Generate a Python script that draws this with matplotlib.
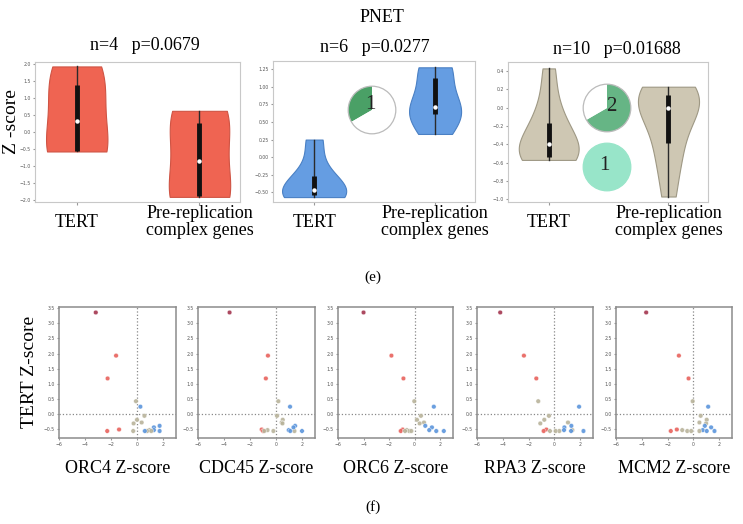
import numpy as np
import matplotlib.pyplot as plt

W, H = 743, 524
SERIF = "Liberation Serif"

# ---- panel (e): violin data (Z-scores) for the three PNET subgroups ----
categories = ["TERT", "Pre-replication\ncomplex genes"]
titles = ["n=4   p=0.0679", "n=6   p=0.0277", "n=10   p=0.01688"]

red_tert = [-0.57, -0.55, 1.2, 1.92]
red_prerep = [-1.9, -1.85, 0.15, 0.62]
blue_tert = [-0.57, -0.55, -0.5, -0.45, -0.2, 0.25]
blue_prerep = [0.33, 0.6, 0.68, 0.75, 1.25, 1.28]
tan_tert = [-0.57, -0.55, -0.55, -0.5, -0.45, -0.35, -0.2, -0.15, 0.1, 0.43]
tan_prerep = [-0.97, -0.6, -0.45, -0.2, -0.05, 0.05, 0.1, 0.15, 0.2, 0.23]

# pie insets
pie_blue = [1, 2]
pie_tan_a = [2, 1]
pie_tan_b = [1]

# ---- panel (f): TERT Z-score vs gene Z-score, 20 samples ----
genes = ["ORC4", "CDC45", "ORC6", "RPA3", "MCM2"]
point_group = ["maroon", "red", "red", "red", "red", "tan", "blue", "tan", "tan", "tan",
               "tan", "tan", "tan", "tan", "blue", "blue", "blue", "blue", "blue", "tan"]
tert_z = [3.35, 1.93, 1.18, -0.50, -0.55, 0.43, 0.25, -0.05, -0.18, -0.27,
          -0.30, -0.52, -0.55, -0.55, -0.38, -0.43, -0.52, -0.55, -0.55, -0.55]
orc4_z = [-3.17, -1.61, -2.26, -1.38, -2.29, -0.08, 0.26, 0.57, 0.0, 0.36,
          -0.26, 0.96, -0.29, 0.78, 1.74, 1.3, 1.3, 0.6, 1.74, 1.1]
cdc45_z = [-3.57, -0.62, -0.78, -1.1, -1.0, 0.18, 1.08, 0.08, 0.52, 0.44,
           0.5, -0.65, -0.2, 1.42, 1.47, 1.34, 0.98, 1.1, 2.0, -0.9]
orc6_z = [-4.0, -1.82, -0.88, -0.94, -1.09, -0.03, 1.5, 0.49, 0.18, 0.73,
          0.39, -0.62, -0.42, -0.26, 0.83, 1.35, 1.14, 1.69, 2.28, -0.75]
rpa3_z = [-4.2, -2.36, -1.4, -0.62, -0.83, -1.25, 1.92, -0.42, -0.78, 1.06,
          -1.09, 1.4, -0.34, 0.39, 1.32, 0.78, 0.75, 1.3, 2.26, 0.1]
mcm2_z = [-3.66, -1.12, -0.37, -1.28, -1.75, -0.05, 1.15, 0.57, 1.04, 0.47,
          0.99, -0.86, -0.47, -0.16, 0.89, 1.38, 0.73, 1.04, 1.64, 0.47]
gene_z = [orc4_z, cdc45_z, orc6_z, rpa3_z, mcm2_z]

group_colors = {"maroon": "#a3354f", "red": "#e8625c", "tan": "#b8b39a", "blue": "#5b95dc"}

fig = plt.figure(figsize=(W / 100, H / 100), dpi=100)


def px_axes(x0, y0, x1, y1):
    return fig.add_axes([x0 / W, 1 - y1 / H, (x1 - x0) / W, (y1 - y0) / H])


def ftext(x, y, s, **kw):
    fig.text(x / W, 1 - y / H, s, ha="center", va="center", family=SERIF, **kw)


def draw_violins(ax, data, widths, face, edge, ylim, yticks):
    parts = ax.violinplot(data, positions=[0, 1], widths=widths, showextrema=False,
                          bw_method="scott")
    for body in parts["bodies"]:
        body.set_facecolor(face)
        body.set_edgecolor(edge)
        body.set_linewidth(0.8)
        body.set_alpha(1)
    for pos, d in enumerate(data):
        q1, med, q3 = np.percentile(d, [25, 50, 75])
        ax.plot([pos, pos], [min(d), max(d)], color="#2b2b2b", lw=1.0, zorder=3)
        ax.plot([pos, pos], [q1, q3], color="#111111", lw=3.5, solid_capstyle="butt", zorder=4)
        ax.plot(pos, med, "o", color="white", ms=2.2, zorder=5)
    ax.set_xlim(-0.34, 1.33)
    ax.set_ylim(*ylim)
    ax.set_yticks(yticks)
    ax.set_xticks([0, 1])
    ax.set_xticklabels(categories, family=SERIF, fontsize=13, va="center", linespacing=1.05)
    ax.tick_params(axis="x", length=2, pad=12.5, color="#999999")
    ax.tick_params(axis="y", labelsize=3.3, length=1.5, pad=1.5, color="#999999",
                   labelcolor="#555555")
    for sp in ax.spines.values():
        sp.set_color("#c8c8c8")
        sp.set_linewidth(0.8)


def draw_pie(x0, y0, x1, y1, vals, colors, label, lx, ly, counterclock=True, edge="#bbbbbb"):
    pax = px_axes(x0, y0, x1, y1)
    pax.pie(vals, colors=colors, startangle=90, counterclock=counterclock,
            wedgeprops=dict(linewidth=0))
    circ = plt.Circle((0, 0), 1, fill=False, edgecolor=edge, lw=0.9)
    pax.add_patch(circ)
    pax.text(lx, ly, label, ha="center", va="center", family=SERIF, fontsize=15, color="#222222")
    pax.set_xlim(-1.05, 1.05)
    pax.set_ylim(-1.05, 1.05)
    pax.set_aspect("equal")
    pax.axis("off")


# ---- top row ----
ax1 = px_axes(35, 62, 240, 202)
draw_violins(ax1, [red_tert, red_prerep], [0.5, 0.5], "#ef6452", "#cf5444",
             (-2.05, 2.05), np.arange(-2.0, 2.01, 0.5))
ax2 = px_axes(273, 61, 475, 202)
draw_violins(ax2, [blue_tert, blue_prerep], [0.53, 0.43], "#659de2", "#4a80c4",
             (-0.64, 1.37), np.arange(-0.5, 1.26, 0.25))
ax3 = px_axes(508, 62, 708, 202)
draw_violins(ax3, [tan_tert, tan_prerep], [0.5, 0.51], "#cec7b3", "#9e9884",
             (-1.03, 0.5), np.arange(-1.0, 0.41, 0.2))

draw_pie(347, 85, 397, 135, pie_blue, ["#4aa066", "white"], "1", -0.05, 0.25)
draw_pie(582, 83, 632, 133, pie_tan_a, ["#66b585", "white"], "2", 0.2, 0.08, counterclock=False)
draw_pie(582, 142, 632, 192, pie_tan_b, ["#98e5c9"], "1", -0.1, 0.05, edge="#98e5c9")

ftext(382, 17, "PNET", fontsize=13)
ftext(145, 46, titles[0], fontsize=13)
ftext(375, 47, titles[1], fontsize=13)
ftext(617, 50, titles[2], fontsize=13)
ftext(12, 122, "Z -score", fontsize=14, rotation=90)
ftext(373, 277, "(e)", fontsize=11)

# ---- bottom row ----
xs = [(59, 176), (198, 315), (338, 453), (477, 593), (616, 732)]
colors = [group_colors[g] for g in point_group]
for (x0, x1), gene, gz in zip(xs, genes, gene_z):
    ax = px_axes(x0, 307, x1, 438)
    ax.axvline(0, color="#888888", ls=":", lw=0.9, zorder=1)
    ax.axhline(0, color="#888888", ls=":", lw=0.9, zorder=1)
    ax.scatter(gz, tert_z, s=11, c=colors, alpha=0.9, edgecolors="white",
               linewidths=0.3, zorder=3)
    ax.set_xlim(-6, 3)
    ax.set_ylim(-0.78, 3.53)
    ax.set_xticks([-6, -4, -2, 0, 2])
    ax.set_yticks(np.arange(-0.5, 3.51, 0.5))
    ax.tick_params(labelsize=3.3, length=1.5, color="#999999", labelcolor="#555555", pad=1.5)
    for sp in ax.spines.values():
        sp.set_color("#8c8c8c")
        sp.set_linewidth(1.1)
    ax.set_xlabel(gene + " Z-score", family=SERIF, fontsize=13, labelpad=9)

ftext(29, 372, "TERT Z-score", fontsize=14, rotation=90)
ftext(373, 507, "(f)", fontsize=11)

fig.savefig("out.png", dpi=100)
